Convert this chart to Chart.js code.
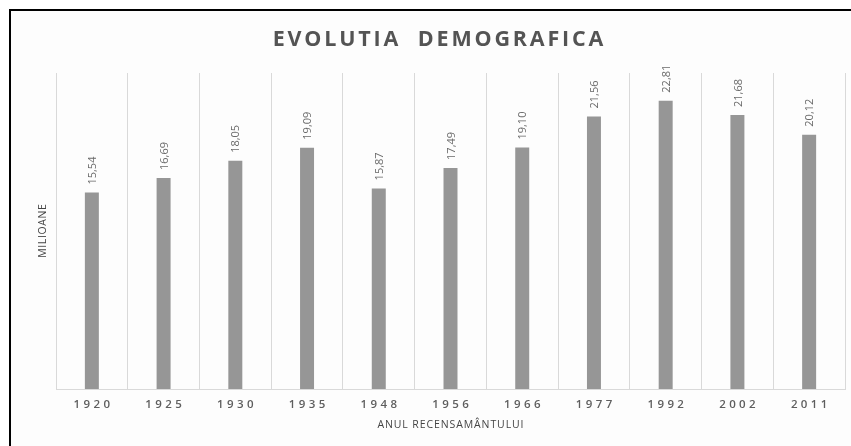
<!DOCTYPE html>
<html>
<head>
<meta charset="utf-8">
<script src="https://cdn.jsdelivr.net/npm/chart.js@4"></script>
<style>
  html, body { margin: 0; padding: 0; background: #fff; overflow: hidden; width: 851px; height: 446px; }
  #frame { position: absolute; left: 9px; top: 9px; width: 1000px; height: 600px;
           border-top: 2px solid #000; border-left: 2px solid #000; background: #fdfdfd; }
  #wrap { position: absolute; left: 0; top: 0; width: 851px; height: 446px; }
</style>
</head>
<body>
<div id="frame"></div>
<div id="wrap"><canvas id="demoChart" width="851" height="446"></canvas></div>
<script>
// date recensaminte
const years = ['1920', '1925', '1930', '1935', '1948', '1956', '1966', '1977', '1992', '2002', '2011'];
const population = [15.54, 16.69, 18.05, 19.09, 15.87, 17.49, 19.10, 21.56, 22.81, 21.68, 20.12];
const chartTitle = 'EVOLUTIA  DEMOGRAFICA';
const xTitle = 'ANUL RECENSAMÂNTULUI';
const yTitle = 'MILIOANE';

function spacedText(ctx, text, cx, cy, spacing) {
  ctx.letterSpacing = spacing + 'px';
  const w = ctx.measureText(text).width - spacing;
  ctx.textAlign = 'left';
  ctx.textBaseline = 'middle';
  ctx.fillText(text, cx - w / 2, cy);
  ctx.letterSpacing = '0px';
}

// etichete, titluri si valori desenate manual (cu spatiere intre litere)
const textPlugin = {
  id: 'texts',
  afterDraw(chart) {
    const ctx = chart.ctx;
    const area = chart.chartArea;
    const x = chart.scales.x;
    ctx.save();

    ctx.fillStyle = '#545454';
    ctx.font = 'bold 21.5px "Open Sans"';
    spacedText(ctx, chartTitle, 438, 40, 2.8);

    ctx.fillStyle = '#5e5e5e';
    ctx.font = '600 11.5px "Open Sans"';
    years.forEach((y, i) => {
      spacedText(ctx, y, x.getPixelForTick(i), 405, 3.4);
    });

    ctx.fillStyle = '#444';
    ctx.font = '10.5px "Open Sans"';
    spacedText(ctx, xTitle, (area.left + area.right) / 2, 425, 0.9);

    ctx.save();
    ctx.translate(43, (area.top + area.bottom) / 2);
    ctx.rotate(-Math.PI / 2);
    spacedText(ctx, yTitle, 0, 0, 0.6);
    ctx.restore();

    // valori deasupra barelor
    ctx.fillStyle = '#6a6a6a';
    ctx.font = '11px "Open Sans"';
    const meta = chart.getDatasetMeta(0);
    meta.data.forEach((bar, i) => {
      const txt = population[i].toFixed(2).replace('.', ',');
      ctx.save();
      ctx.translate(bar.x + 1, bar.y - 8);
      ctx.rotate(-Math.PI / 2);
      ctx.textAlign = 'left';
      ctx.textBaseline = 'middle';
      ctx.fillText(txt, 0, 0);
      ctx.restore();
    });

    ctx.restore();
  }
};

const ctx = document.getElementById('demoChart').getContext('2d');
new Chart(ctx, {
  type: 'bar',
  data: {
    labels: years,
    datasets: [{
      label: 'Populatie',
      data: population,
      backgroundColor: '#969696',
      categoryPercentage: 1,
      barPercentage: 0.195
    }]
  },
  options: {
    responsive: false,
    animation: false,
    layout: { padding: { left: 56, top: 73, right: 6, bottom: 57 } },
    plugins: {
      legend: { display: false },
      title: { display: false },
      tooltip: { enabled: false }
    },
    scales: {
      x: {
        offset: true,
        grid: { display: true, offset: true, color: '#d9d9d9', lineWidth: 1, drawTicks: false },
        border: { display: true, color: '#d9d9d9', width: 1 },
        ticks: { display: false },
        afterFit(scale) { scale.height = 0; }
      },
      y: {
        display: false,
        min: 0,
        max: 25
      }
    }
  },
  plugins: [textPlugin]
});
</script>
</body>
</html>
